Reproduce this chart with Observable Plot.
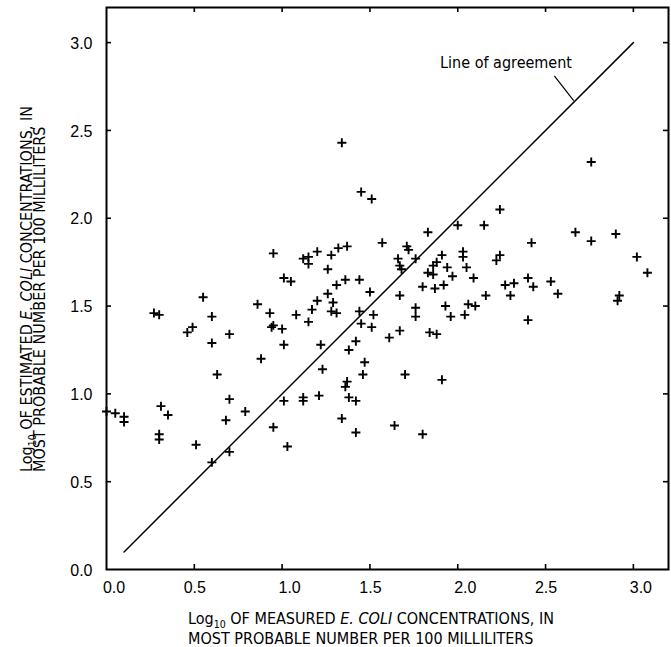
<!DOCTYPE html>
<html>
<head>
<meta charset="utf-8">
<script src="https://cdn.jsdelivr.net/npm/d3@7"></script>
<script src="https://cdn.jsdelivr.net/npm/@observablehq/plot@0.6"></script>
<style>
  html, body { margin: 0; padding: 0; background: #fff; }
</style>
</head>
<body>
<div id="chart"></div>
<script>
// ---- Data ----
const measuredLog = [
  0.27,0.30,0.60,0.49,0.46,0.70,0.60,0.93,0.95,0.94,1.00,1.01,0.88,0.63,0.70,1.01,0.79,0.31,0.35,0.00,0.05,0.10,0.10,0.68,0.95,0.30,0.30,0.51,1.03,0.70,0.60,
  0.55,0.86,0.95,1.12,1.15,1.15,1.20,1.28,1.32,1.37,1.26,1.01,1.05,1.31,1.36,1.44,1.50,1.20,1.26,1.29,1.17,1.28,1.31,1.08,1.15,1.22,1.44,1.52,1.45,1.51,1.42,1.38,1.47,1.46,1.23,1.37,1.36,1.38,1.42,1.12,1.12,1.21,1.34,1.42,1.34,1.45,1.51,
  1.83,2.00,1.57,1.71,1.72,1.66,1.67,1.68,1.76,1.91,2.03,2.03,2.05,1.88,1.86,1.94,1.83,1.86,1.97,1.92,1.80,1.87,2.76,2.24,2.15,2.67,2.90,2.76,2.42,2.09,2.24,2.22,2.16,2.27,2.32,2.30,2.40,2.43,2.53,2.57,3.02,3.08,2.92,2.91,1.67,1.76,1.93,2.06,2.10,1.76,1.96,2.04,2.40,1.67,1.61,1.84,1.88,1.70,1.91,1.64,1.80
];
const estimatedLog = [
  1.46,1.45,1.44,1.38,1.35,1.34,1.29,1.46,1.39,1.38,1.37,1.28,1.20,1.11,0.97,0.96,0.90,0.93,0.88,0.90,0.89,0.87,0.84,0.85,0.81,0.77,0.74,0.71,0.70,0.67,0.61,
  1.55,1.51,1.80,1.77,1.78,1.74,1.81,1.79,1.83,1.84,1.71,1.66,1.64,1.62,1.65,1.65,1.58,1.53,1.57,1.52,1.48,1.47,1.46,1.45,1.41,1.28,1.47,1.45,1.40,1.38,1.30,1.25,1.18,1.11,1.14,1.07,1.04,0.98,0.96,0.98,0.96,0.99,0.86,0.78,2.43,2.15,2.11,
  1.92,1.96,1.86,1.84,1.82,1.77,1.73,1.71,1.77,1.79,1.81,1.78,1.72,1.75,1.73,1.72,1.69,1.68,1.67,1.62,1.61,1.60,2.32,2.05,1.96,1.92,1.91,1.87,1.86,1.66,1.79,1.76,1.56,1.62,1.63,1.56,1.66,1.61,1.64,1.57,1.78,1.69,1.56,1.53,1.56,1.49,1.50,1.51,1.50,1.44,1.44,1.45,1.42,1.36,1.32,1.35,1.34,1.11,1.08,0.82,0.77
];
const xTicksWhole = [0, 1, 2, 3];
const xTicksHalf = [0.5, 1.5, 2.5];
const xTicks = [0.5, 1, 1.5, 2, 2.5, 3];
const yTicks = [0, 0.5, 1, 1.5, 2, 2.5, 3];
const yTickMarks = [0.5, 1, 1.5, 2, 2.5, 3];
const agreementX = [0.1, 3.0];
const agreementY = [0.1, 3.0];
const leaderLine = [{x1: 2.55, y1: 2.81, x2: 2.66, y2: 2.67}];
const annotationText = ["Line of agreement"];
const annotationPos = {x: 2.275, y: 2.887};
const xTitleLine1 = [["Log", ""], ["10", "sub"], [" OF MEASURED ", ""], ["E. COLI", "it"], [" CONCENTRATIONS, IN", ""]];
const yTitleLine1 = [["Log", ""], ["10", "sub"], [" OF ESTIMATED ", ""], ["E. COLI", "it"], [" CONCENTRATIONS, IN", ""]];
const titleLine2 = "MOST PROBABLE NUMBER PER 100 MILLILITERS";

// ---- Layout ----
const W = 671, H = 647, mL = 106, mR = 3, mT = 7, mB = 78;
const innerW = W - mL - mR, innerH = H - mT - mB;
const tickLen = 5;
const tickFont = "'Liberation Sans', Arial, Helvetica, sans-serif";
const condFont = "'DejaVu Sans Condensed', 'Liberation Sans Narrow', 'Arial Narrow', sans-serif";

const points = measuredLog.map((x, i) => ({x, y: estimatedLog[i]}));
const agreement = agreementX.map((x, i) => ({x, y: agreementY[i]}));
const fmt = d3.format(".1f");

const chart = Plot.plot({
  width: W, height: H,
  marginLeft: mL, marginRight: mR, marginTop: mT, marginBottom: mB,
  x: {domain: [0, 3.2]},
  y: {domain: [0, 3.2]},
  style: {fontFamily: tickFont, fontSize: "16px", color: "black", background: "white", overflow: "visible"},
  marks: [
    Plot.axisX(xTicksWhole, {anchor: "bottom", tickSize: 0, tickPadding: 12, dx: 7.5, tickFormat: fmt, label: null, fontSize: 16, fontFamily: tickFont}),
    Plot.axisX(xTicksHalf, {anchor: "bottom", tickSize: 0, tickPadding: 12, dx: 0.5, tickFormat: fmt, label: null, fontSize: 16, fontFamily: tickFont}),
    Plot.axisY(yTicks, {anchor: "left", tickSize: 0, tickPadding: 14, dy: 1, tickFormat: fmt, label: null, fontSize: 16, fontFamily: tickFont}),
    // inward ticks on all four sides
    Plot.tickX(xTicks, {x: d => d, insetTop: innerH - tickLen, strokeWidth: 1.6, stroke: "black"}),
    Plot.tickX(xTicks, {x: d => d, insetBottom: innerH - tickLen, strokeWidth: 1.6, stroke: "black"}),
    Plot.tickY(yTickMarks, {y: d => d, insetRight: innerW - tickLen, strokeWidth: 1.6, stroke: "black"}),
    Plot.tickY(yTickMarks, {y: d => d, insetLeft: innerW - tickLen, strokeWidth: 1.6, stroke: "black"}),
    Plot.frame({stroke: "black", strokeWidth: 2}),
    Plot.line(agreement, {x: "x", y: "y", stroke: "black", strokeWidth: 1.5}),
    Plot.link(leaderLine, {x1: "x1", y1: "y1", x2: "x2", y2: "y2", stroke: "black", strokeWidth: 1.2}),
    Plot.text(annotationText, {x: annotationPos.x, y: annotationPos.y, text: d => d, fontFamily: condFont, fontSize: 16, fill: "black"}),
    Plot.dot(points, {x: "x", y: "y", symbol: "plus", r: 3, stroke: "black", strokeWidth: 1.9})
  ]
});

document.getElementById("chart").appendChild(chart);

// ---- Axis titles (rich text: subscript and italics) ----
const svg = d3.select(chart);
function richText(sel, parts) {
  parts.forEach(([t, kind], i) => {
    const ts = sel.append("tspan").text(t);
    if (kind === "sub") ts.attr("font-size", 10.5).attr("dy", 4);
    else if (i > 0 && parts[i - 1][1] === "sub") ts.attr("dy", -4);
    if (kind === "it") ts.attr("font-style", "italic");
  });
}
const titles = svg.append("g")
  .attr("font-family", condFont)
  .attr("font-size", 16)
  .attr("text-anchor", "start")
  .attr("fill", "black");

richText(titles.append("text").attr("x", 188).attr("y", 623.5), xTitleLine1);
titles.append("text").attr("x", 188).attr("y", 644).text(titleLine2);

richText(titles.append("text").attr("transform", "translate(31.5,472) rotate(-90)"), yTitleLine1);
titles.append("text").attr("transform", "translate(45,472) rotate(-90)").text(titleLine2);
</script>
</body>
</html>
